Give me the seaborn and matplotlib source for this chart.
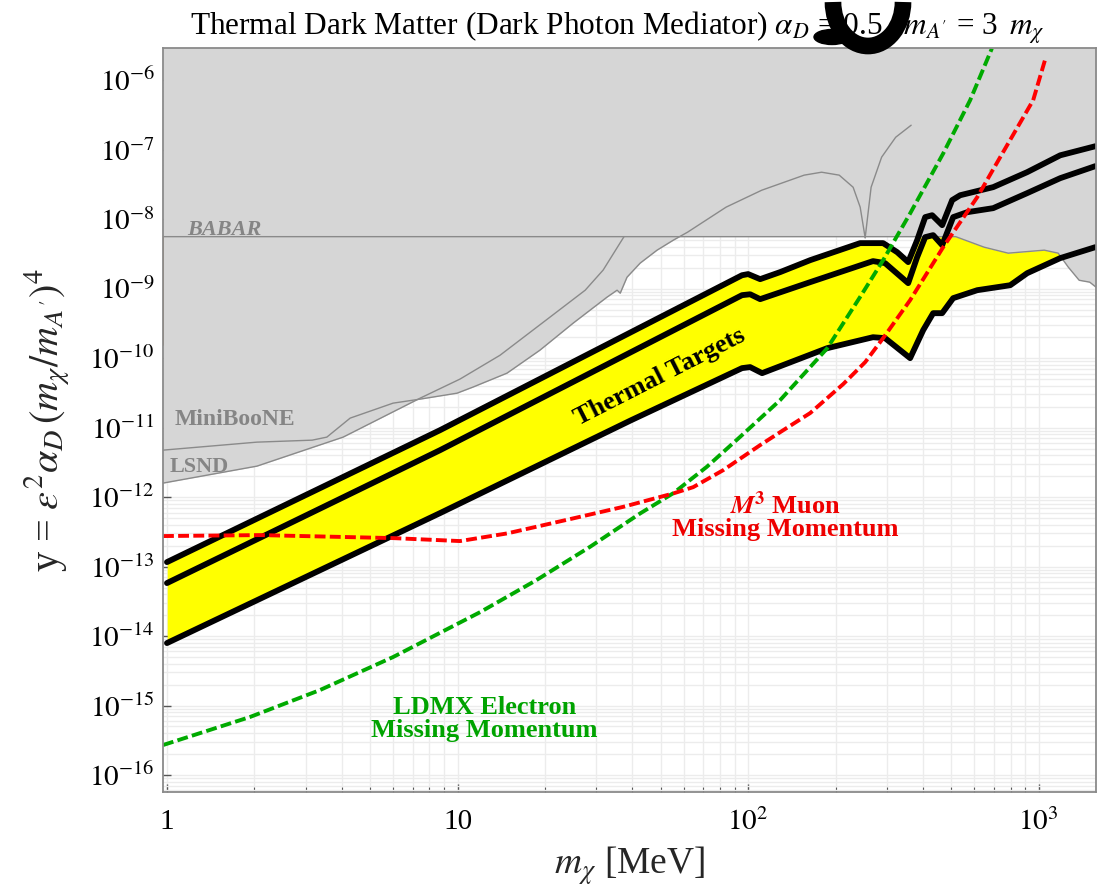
import numpy as np
import matplotlib
matplotlib.use("Agg")
import matplotlib.pyplot as plt
import matplotlib.patches as mpatches
import matplotlib.transforms as mtransforms
import seaborn as sns
from matplotlib.ticker import FixedLocator, NullFormatter, LogLocator

# ---------------- data ----------------
# thermal target curves
upper_x = [1.0, 8.71, 95.3, 100, 110, 128.9, 163.5, 243, 291.5, 325.8, 355.5, 381.7, 406.8,
           429.9, 465.4, 503.8, 536.7, 697.2, 912.8, 1186, 1565]
upper_y = [1.16e-13, 9.2e-12, 1.56e-9, 1.62e-9, 1.37e-9, 1.73e-9, 2.57e-9, 4.52e-9, 4.52e-9,
           3.35e-9, 2.41e-9, 4.99e-9, 1.07e-8, 1.14e-8, 8.2e-9, 1.88e-8, 2.21e-8, 2.89e-8,
           4.75e-8, 8.3e-8, 1.12e-7]
middle_x = [1.0, 8.71, 95.3, 101.6, 110, 163.5, 269, 296, 355.5, 381.7, 406.8, 433.3, 465.4,
            507.8, 567.5, 697.2, 912.8, 1186, 1565]
middle_y = [5.79e-14, 4.74e-12, 8.06e-10, 8.3e-10, 7.06e-10, 1.24e-9, 2.49e-9, 2.33e-9, 1.20e-9,
            2.84e-9, 5.51e-9, 5.89e-9, 4.23e-9, 1.07e-8, 1.26e-8, 1.44e-8, 2.37e-8, 3.89e-8, 5.79e-8]
lower_x = [1.0, 8.71, 39.6, 95.3, 101.6, 111.7, 187, 269, 296, 361, 400.4, 433.3, 465.4, 507.8,
           614.3, 797.9, 912.8, 1186, 1565]
lower_y = [7.93e-15, 5.89e-13, 1.28e-11, 7.18e-11, 7.43e-11, 6.08e-11, 1.39e-10, 2.0e-10, 1.94e-10,
           1.0e-10, 2.53e-10, 4.44e-10, 4.44e-10, 7.3e-10, 9.5e-10, 1.12e-9, 1.67e-9, 2.75e-9, 3.95e-9]

# existing constraints
babar_x = [0.969, 518, 649, 785, 1045, 1167, 1264, 1378, 1498, 1575]
babar_y = [5.6e-9, 5.6e-9, 3.95e-9, 3.24e-9, 3.58e-9, 3.24e-9, 2.04e-9, 1.32e-9, 1.24e-9, 1.05e-9]
lsnd_x = [0.969, 2.04, 4.04, 7.43, 10.2, 14.0, 20.8, 27.5, 31.7, 37.4]
lsnd_y = [1.59e-12, 2.79e-12, 7.3e-12, 2.65e-11, 5.0e-11, 1.10e-10, 3.89e-10, 9.5e-10, 1.85e-9, 5.6e-9]
mb_x = [0.969, 2.04, 3.16, 3.55, 4.27, 6.0, 7.43, 9.96, 11.3, 14.8, 19.2, 25.0, 32.7, 35.4, 36.3,
        38.3, 42.5, 48.6, 55.3, 61.9, 84.0, 111.4, 155.9, 179, 205.8, 229.8, 243, 252.8]
mb_y = [4.74e-12, 6.18e-12, 6.6e-12, 7.3e-12, 1.37e-11, 2.25e-11, 2.57e-11, 3.13e-11, 3.83e-11,
        6.08e-11, 1.30e-10, 3.19e-10, 7.55e-10, 9.5e-10, 8.6e-10, 1.46e-9, 2.33e-9, 3.58e-9,
        4.99e-9, 6.5e-9, 1.49e-8, 2.61e-8, 4.3e-8, 4.74e-8, 4.3e-8, 2.88e-8, 1.49e-8, 5.4e-9]
spike_x = [252.8, 265, 288, 322, 364]
spike_y = [5.4e-9, 2.88e-8, 7.8e-8, 1.51e-7, 2.25e-7]
edge_y = [5.6e-9, 1.55e-10]

# projections
m3_x = [0.969, 2.09, 6.0, 10.2, 14.8, 25.0, 37.2, 55.3, 64.7, 82.2, 110, 128.9, 163.5, 212.3,
        252.8, 291.5, 361, 469, 614.3, 737, 957, 1053]
m3_y = [2.75e-13, 2.84e-13, 2.57e-13, 2.33e-13, 3.0e-13, 4.94e-13, 7.25e-13, 1.13e-12, 1.39e-12,
        2.45e-12, 5.6e-12, 8.6e-12, 1.62e-11, 4.22e-11, 8.75e-11, 1.94e-10, 6.83e-10, 3.95e-9,
        2.07e-8, 7.8e-8, 5.15e-7, 2.0e-6]
ldmx_x = [0.969, 1.93, 3.36, 6.0, 11.96, 18.7, 28.6, 42.5, 55.3, 72.1, 93.9, 128.9, 187, 243,
          291.5, 361, 469, 580.8, 690]
ldmx_y = [2.7e-16, 6.84e-16, 1.67e-15, 4.99e-15, 2.21e-14, 6.4e-14, 1.93e-13, 5.82e-13, 1.14e-12,
          2.73e-12, 7.38e-12, 2.49e-11, 1.38e-10, 7.62e-10, 2.57e-9, 1.21e-8, 8.8e-8, 5.15e-7, 2.86e-6]

x_ticks = [1, 10, 100, 1000]
x_tick_labels = ["1", "10", r"$10^{2}$", r"$10^{3}$"]
y_tick_exps = list(range(-16, -5))

# ---------------- style ----------------
sns.set_theme(style="white")
plt.rcParams["font.family"] = ["Liberation Serif", "DejaVu Serif"]
plt.rcParams["mathtext.fontset"] = "stix"

fig = plt.figure(figsize=(10.99, 8.92), dpi=100)
ax = fig.add_axes([0.1483, 0.1121, 0.8490, 0.8346])
ax.set_xscale("log")
ax.set_yscale("log")
XMIN, XMAX, YMIN, YMAX = 0.969, 1575, 5.7e-17, 2.95e-6
ax.set_xlim(XMIN, XMAX)
ax.set_ylim(YMIN, YMAX)


def logi(xq, x, y):
    return 10 ** np.interp(np.log10(xq), np.log10(x), np.log10(y), left=np.nan, right=np.nan)


xg = np.logspace(np.log10(XMIN), np.log10(XMAX), 2000)
gray_lo = np.nanmin(np.vstack([logi(xg, lsnd_x, lsnd_y), logi(xg, mb_x, mb_y),
                               logi(xg, babar_x, babar_y)]), axis=0)
ax.fill_between(xg, gray_lo, 1e-4, color="#d6d6d6", lw=0, zorder=1)

m = (xg >= upper_x[0]) & (xg <= upper_x[-1])
up = np.minimum(logi(xg[m], upper_x, upper_y), gray_lo[m])
lo = logi(xg[m], lower_x, lower_y)
ax.fill_between(xg[m], lo, up, where=up > lo, interpolate=True, color="#ffff00", lw=0, zorder=2)

gray = "#8a8a8a"
for xs, ys in [(babar_x, babar_y), (lsnd_x, lsnd_y), (mb_x, mb_y), (spike_x, spike_y)]:
    sns.lineplot(x=xs, y=ys, ax=ax, color=gray, lw=1.0, estimator=None, sort=False, zorder=3)
sns.lineplot(x=[XMIN, XMIN], y=edge_y, ax=ax, color="#b8875a", lw=1.2, estimator=None,
             sort=False, zorder=3)

for xs, ys in [(upper_x, upper_y), (middle_x, middle_y), (lower_x, lower_y)]:
    sns.lineplot(x=xs, y=ys, ax=ax, color="black", lw=4.2, estimator=None, sort=False, zorder=4,
                 solid_joinstyle="round", solid_capstyle="round")

for xs, ys, c in [(ldmx_x, ldmx_y, "#00aa00"), (m3_x, m3_y, "#ff0000")]:
    sns.lineplot(x=xs, y=ys, ax=ax, color=c, lw=2.8, estimator=None, sort=False, zorder=5)
    ax.lines[-1].set_dashes([2.8, 1.1])

# ---------------- axes decoration ----------------
ax.set_axisbelow(True)
ax.xaxis.set_major_locator(FixedLocator(x_ticks))
ax.set_xticklabels(x_tick_labels)
ax.xaxis.set_minor_locator(LogLocator(base=10, subs=np.arange(2, 10)))
ax.xaxis.set_minor_formatter(NullFormatter())
ax.yaxis.set_major_locator(FixedLocator([10.0 ** e for e in y_tick_exps]))
ax.set_yticklabels([r"$10^{%d}$" % e for e in y_tick_exps])
ax.yaxis.set_minor_locator(LogLocator(base=10, subs=np.arange(2, 10), numticks=30))
ax.yaxis.set_minor_formatter(NullFormatter())
ax.grid(True, which="both", color="#ececec", lw=1.0)
ax.tick_params(axis="both", which="major", direction="in", length=6, width=1.0, color="#555555",
               labelsize=21, labelcolor="black", bottom=True, left=True, top=False, right=False)
ax.tick_params(axis="x", which="major", pad=12)
ax.tick_params(axis="y", which="major", pad=6)
ax.tick_params(axis="x", which="minor", direction="in", length=3.5, width=0.8, color="#555555",
               bottom=True, top=False)
ax.tick_params(axis="y", which="minor", length=0, left=False, right=False)
for s in ax.spines.values():
    s.set_color("#8a8a8a")
    s.set_linewidth(1.3)
    s.set_zorder(6)

ax.set_xlabel(r"$m_\chi$ [MeV]", fontsize=27, labelpad=6)
ax.set_ylabel(r"y = $\epsilon^2\alpha_D\,(m_\chi/m_{A'})^4$", fontsize=29)
ax.yaxis.set_label_coords(-0.098, 0.5)
fig.text(190 / 1099, 1 - 36 / 892,
         r"Thermal Dark Matter (Dark Photon Mediator) $\alpha_D$ = 0.5, $\;m_{A'}$ = 3 $\,m_\chi$",
         fontsize=22.5, ha="left", va="baseline", color="black")

# ---------------- annotations ----------------
ax.text(1.17, 5.9e-9, "BABAR", fontsize=16, fontweight="bold", style="italic", color="#858585",
        va="baseline", ha="left", zorder=6)
ax.text(1.065, 1.09e-11, "MiniBooNE", fontsize=17, fontweight="bold", color="#858585",
        va="baseline", ha="left", zorder=6)
ax.text(1.024, 2.31e-12, "LSND", fontsize=16, fontweight="bold", color="#858585",
        va="baseline", ha="left", zorder=6)
ax.text(49.8, 5.27e-11, "Thermal Targets", fontsize=19, fontweight="bold", color="black",
        rotation=27, rotation_mode="anchor", ha="center", va="center", zorder=7)
ax.text(134, 5.33e-13, "$\\mathbfit{M}^{\\mathbf{3}}$ Muon\nMissing Momentum", fontsize=19,
        fontweight="bold", color="#ee0000", ha="center", va="center", multialignment="center",
        linespacing=1.0, zorder=7)
ax.text(12.4, 6.4e-16, "LDMX Electron\nMissing Momentum", fontsize=19, fontweight="bold",
        color="#00a300", ha="center", va="center", multialignment="center", linespacing=1.0,
        zorder=7)

# thick black stroke partly cut at the top of the reference image (drawn as a shape)
H = fig.bbox.height
blob = mpatches.Arc((868, H - 2), 70, 88, theta1=180, theta2=360, lw=12, color="black",
                    transform=mtransforms.IdentityTransform(), clip_on=False)
fig.add_artist(blob)
fig.add_artist(mpatches.Ellipse((832, H - 37), 36, 15, color="black",
                                transform=mtransforms.IdentityTransform(), clip_on=False))

fig.savefig("out.png", dpi=100)
